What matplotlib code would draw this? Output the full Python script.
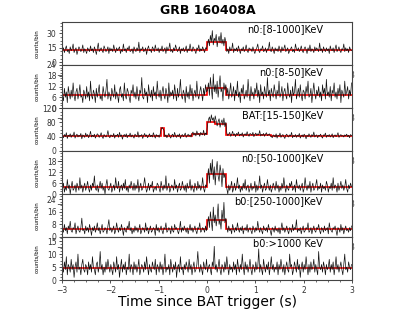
import numpy as np
import matplotlib
matplotlib.use('Agg')
import matplotlib.pyplot as plt
from matplotlib.ticker import AutoMinorLocator

# light curves, 0.02 s bins from -3 s to +3 s (300 bins each)
n0_8_1000 = [
    12, 15, 10, 14, 17, 11, 13, 9, 16, 12, 14, 19, 10, 13, 15, 8, 12, 16, 14, 11, 13, 18, 10, 14, 12,
    9, 15, 13, 11, 17, 12, 14, 10, 16, 13, 8, 14, 20, 11, 13, 15, 12, 10, 17, 14, 11, 13, 16, 9, 15,
    12, 14, 11, 18, 13, 10, 15, 12, 14, 16, 9, 13, 11, 19, 12, 14, 10, 15, 13, 17, 11, 12, 14, 9, 16,
    13, 11, 15, 12, 21, 10, 14, 13, 16, 11, 12, 15, 8, 14, 17, 12, 13, 10, 16, 14, 11, 18, 13, 12, 15,
    10, 14, 12, 17, 11, 13, 15, 9, 16, 12, 14, 20, 11, 13, 10, 15, 12, 18, 14, 11, 13, 16, 9, 14, 12,
    15, 11, 13, 17, 10, 14, 12, 19, 13, 11, 16, 14, 12, 9, 15, 13, 18, 11, 14, 12, 16, 13, 10, 15, 14,
    19, 24, 17, 28, 21, 33, 18, 25, 22, 29, 16, 23, 27, 20, 31, 19, 24, 17, 26, 21,
    11, 14, 9, 16, 12, 13, 20, 10, 14, 12, 15, 11, 17, 13, 9, 14, 12, 16, 11, 13, 18, 12, 10, 15, 13,
    14, 11, 16, 12, 9, 13, 15, 19, 12, 10, 14, 13, 17, 11, 12, 15, 10, 14, 13, 21, 12, 11, 16, 13, 9,
    15, 12, 14, 11, 17, 13, 10, 16, 12, 14, 18, 11, 13, 15, 9, 12, 14, 16, 11, 13, 10, 19, 14, 12, 15,
    11, 13, 17, 12, 10, 14, 16, 13, 9, 15, 12, 18, 11, 14, 13, 10, 16, 12, 15, 13, 11, 20, 12, 14, 10,
    16, 13, 11, 15, 12, 14, 9, 17, 13, 12, 15, 10, 14, 18, 11, 13, 16, 12, 10, 14, 13, 19, 11, 15, 12,
    14, 10, 16, 13, 12]

n0_8_50 = [
    7, 4, 11, 6, 9, 3, 12, 8, 5, 10, 6, 14, 7, 4, 9, 11, 5, 8, 13, 6, 7, 3, 10, 8, 5,
    12, 6, 9, 4, 15, 7, 5, 10, 8, 3, 11, 6, 9, 13, 5, 7, 4, 12, 8, 6, 10, 16, 5, 9, 7,
    4, 11, 8, 6, 13, 5, 9, 7, 3, 10, 12, 6, 8, 4, 14, 7, 5, 11, 9, 6, 3, 10, 8, 13, 6,
    9, 5, 12, 7, 4, 10, 8, 17, 6, 5, 11, 7, 9, 3, 13, 8, 6, 10, 4, 12, 7, 9, 5, 15, 8,
    6, 10, 4, 9, 12, 7, 5, 11, 8, 3, 14, 6, 9, 7, 10, 5, 13, 8, 4, 11, 6, 9, 16, 7, 5,
    10, 8, 3, 12, 6, 9, 5, 13, 7, 11, 4, 8, 10, 6, 15, 7, 5, 9, 12, 8, 4, 11, 7, 13, 9,
    10, 14, 7, 17, 11, 5, 19, 9, 13, 8, 15, 6, 12, 18, 9, 11, 4, 14, 10, 13,
    7, 11, 5, 9, 14, 6, 8, 12, 4, 10, 7, 15, 6, 9, 3, 11, 8, 13, 5, 7, 10, 6, 16, 8, 4,
    12, 7, 9, 5, 11, 8, 14, 6, 10, 3, 13, 7, 9, 5, 12, 8, 6, 17, 7, 10, 4, 11, 8, 6, 13,
    9, 5, 10, 7, 15, 6, 8, 12, 4, 9, 11, 7, 5, 14, 8, 6, 10, 3, 12, 7, 9, 16, 5, 8, 11,
    6, 13, 7, 4, 10, 9, 5, 12, 8, 15, 6, 7, 11, 3, 9, 14, 8, 5, 10, 7, 12, 6, 9, 4, 13,
    8, 11, 5, 16, 7, 9, 6, 12, 4, 10, 8, 14, 6, 9, 5, 11, 7, 13, 3, 10, 8, 6, 15, 7, 9,
    12, 5, 10, 7, 14]

bat_15_150 = [
    43, 37, 46, 40, 51, 35, 44, 41, 48, 38, 45, 42, 53, 36, 43, 47, 39, 44, 41, 49, 34, 45, 42, 38, 50,
    41, 46, 37, 43, 55, 39, 44, 40, 47, 36, 42, 48, 45, 38, 43, 51, 40, 35, 46, 42, 39, 44, 57, 41, 37,
    45, 43, 40, 49, 36, 44, 42, 47, 38, 52, 41, 45, 33, 43, 46, 40, 48, 37, 44, 42, 50, 39, 45, 41, 36,
    47, 43, 40, 54, 38, 44, 42, 46, 35, 43, 49, 41, 45, 37, 42, 48, 40, 44, 39, 51, 43, 36, 46, 41, 44,
    38, 47,
    60, 66, 62, 58,
    40, 45, 37, 43, 49, 41, 36, 44, 47, 39, 52, 42, 38, 45, 41, 48, 35, 43, 46, 40, 44, 50, 38, 42, 47,
    41, 45, 39,
    48, 53, 44, 50, 42, 56, 46, 49, 41, 52, 47, 45, 58, 43, 50, 46,
    72, 88, 95, 80, 101, 86, 93, 78, 98, 84, 70, 82, 90, 66, 79, 87, 72, 92, 68, 80,
    50, 43, 47, 52, 41, 46, 55, 44, 48, 40, 49, 45, 53, 42, 47, 44, 51, 39, 46, 48, 43, 54, 45, 41, 49,
    47, 44, 52, 40, 46, 50, 43, 48, 45, 57, 42, 46, 44, 49, 41, 47, 51, 43, 45, 48, 42,
    41, 37, 45, 43, 39, 48, 36, 44, 42, 50, 38, 43, 46, 40, 35, 44, 47, 41, 39, 45, 42, 52, 37, 43, 40,
    46, 38, 44, 41, 49, 36, 42, 45, 39, 47, 43, 34, 44, 40, 48, 42, 38, 46, 41, 53, 39, 43, 45, 37, 44,
    42, 47, 40, 36, 45, 43, 50, 38, 44, 41, 46, 39, 42, 48, 37, 43, 45, 40, 44, 51, 38, 42, 46, 41, 43,
    39, 45, 42, 47, 40, 44, 37, 46, 43]

n0_50_1000 = [
    3, 6, 1, 4, 2, 8, 3, 5, 0, 4, 7, 2, 3, 5, 1, 6, 4, 2, 9, 3, 5, 1, 4, 6, 2,
    4, 7, 3, 1, 5, 2, 6, 4, 10, 3, 2, 5, 1, 4, 7, 3, 6, 2, 4, 0, 5, 8, 3, 2, 4,
    6, 1, 3, 5, 2, 9, 4, 3, 7, 1, 4, 5, 2, 6, 3, 8, 2, 4, 1, 5, 3, 7, 4, 2, 6,
    2, 5, 3, 8, 1, 4, 6, 2, 3, 5, 9, 4, 1, 3, 6, 2, 5, 4, 7, 1, 3, 4, 2, 6, 5,
    3, 1, 7, 4, 2, 5, 3, 10, 2, 4, 6, 1, 3, 5, 4, 2, 8, 3, 5, 1, 4, 6, 2, 3, 7,
    4, 2, 5, 1, 6, 3, 4, 8, 2, 5, 3, 1, 6, 4, 2, 7, 3, 5, 2, 4, 9, 3, 1, 5, 4,
    9, 14, 6, 17, 11, 19, 8, 15, 5, 13, 18, 10, 7, 16, 12, 4, 14, 9, 11, 6,
    3, 0, 5, 2, 4, 7, 1, 3, 6, 2, 4, 9, 3, 5, 1, 4, 2, 6, 3, 8, 2, 4, 5, 1, 3,
    6, 2, 4, 3, 7, 1, 5, 2, 4, 10, 3, 5, 1, 4, 6, 2, 3, 8, 4, 2, 5, 1, 3, 6, 4,
    2, 7, 3, 5, 1, 4, 2, 6, 3, 9, 4, 1, 5, 3, 2, 6, 4, 7, 2, 3, 5, 1, 8, 4, 3,
    5, 2, 4, 6, 1, 3, 9, 4, 2, 5, 3, 7, 1, 4, 6, 2, 3, 5, 8, 2, 4, 3, 6, 1, 5,
    3, 4, 2, 7, 5, 1, 4, 3, 6, 2, 9, 3, 5, 4, 1, 6, 2, 4, 7, 3, 5, 2, 4, 8, 3,
    1, 5, 3, 6, 4]

b0_250_1000 = [
    5, 3, 8, 4, 6, 2, 7, 5, 10, 4, 3, 6, 5, 9, 2, 5, 7, 4, 3, 6, 12, 4, 5, 2, 7,
    4, 6, 3, 8, 5, 1, 6, 4, 7, 3, 5, 9, 4, 6, 2, 5, 8, 3, 4, 6, 5, 2, 7, 11, 4,
    6, 3, 5, 7, 2, 4, 9, 5, 3, 6, 4, 8, 5, 1, 6, 4, 3, 7, 5, 10, 4, 6, 2, 5, 3,
    7, 4, 6, 3, 5, 8, 2, 4, 6, 5, 3, 9, 4, 6, 2, 5, 7, 3, 4, 6, 5, 1, 8, 4, 6,
    3, 5, 7, 4, 2, 6, 5, 9, 3, 4, 6, 5, 2, 7, 4, 3, 8, 5, 6, 4, 2, 5, 10, 3, 6,
    4, 7, 5, 3, 6, 2, 5, 8, 4, 6, 3, 5, 7, 4, 2, 6, 5, 9, 3, 4, 6, 5, 3, 7, 4,
    8, 13, 6, 16, 10, 4, 19, 9, 14, 7, 12, 21, 8, 11, 5, 17, 10, 22, 9, 12,
    6, 3, 7, 4, 5, 2, 8, 5, 3, 6, 4, 9, 5, 3, 6, 4, 7, 2, 5, 6, 4, 8, 3, 5, 6,
    4, 2, 7, 5, 3, 6, 4, 10, 5, 3, 6, 4, 2, 7, 5, 4, 6, 3, 8, 5, 4, 1, 6, 5, 3,
    7, 4, 5, 3, 6, 2, 5, 9, 4, 6, 3, 5, 7, 4, 2, 6, 5, 3, 8, 4, 6, 5, 11, 3, 5,
    4, 6, 2, 5, 7, 3, 4, 6, 5, 9, 3, 4, 6, 2, 5, 7, 4, 3, 6, 5, 8, 4, 2, 6, 5,
    3, 7, 4, 5, 6, 2, 9, 5, 4, 3, 6, 5, 7, 4, 1, 6, 5, 3, 8, 4, 6, 2, 5, 7, 4,
    5, 3, 6, 4, 7]

b0_1000 = [
    5, 3, 7, 4, 9, 2, 6, 5, 3, 8, 4, 6, 1, 5, 7, 3, 10, 4, 5, 2, 6, 8, 4, 3, 6,
    5, 2, 7, 4, 6, 3, 9, 5, 4, 2, 6, 7, 3, 5, 11, 4, 6, 2, 5, 3, 7, 4, 8, 5, 3,
    6, 4, 2, 7, 5, 3, 9, 4, 6, 1, 5, 8, 3, 6, 4, 7, 2, 5, 4, 10, 3, 6, 5, 2, 7,
    4, 6, 3, 5, 8, 2, 4, 6, 5, 3, 7, 4, 9, 5, 2, 6, 4, 3, 7, 5, 4, 8, 2, 6, 5,
    3, 7, 4, 6, 2, 5, 10, 3, 5, 4, 6, 2, 8, 5, 3, 6, 4, 7, 1, 5, 6, 3, 9, 4, 5,
    2, 6, 4, 7, 5, 3, 8, 4, 6, 2, 5, 7, 3, 4, 6, 11, 5, 3, 6, 4, 2, 7, 5, 4, 8,
    3, 5, 6, 4, 2, 7, 5, 13, 4, 6, 3, 5, 8, 4, 2, 6, 5, 3, 7, 4, 9, 5, 2, 6, 4,
    5, 3, 7, 4, 6, 2, 8, 5, 3, 6, 4, 10, 5, 2, 7, 4, 6, 3, 5, 8, 4, 2, 6, 5, 3,
    7, 4, 5, 12, 3, 6, 4, 2, 8, 5, 3, 6, 4, 7, 2, 5, 9, 4, 6, 3, 5, 4, 7, 2, 6,
    4, 8, 5, 3, 6, 2, 5, 7, 4, 3, 10, 5, 6, 2, 4, 7, 5, 3, 8, 4, 6, 1, 5, 7, 3,
    6, 4, 9, 5, 2, 6, 3, 7, 4, 5, 8, 3, 6, 4, 2, 11, 5, 4, 6, 3, 7, 5, 2, 6, 4,
    5, 8, 3, 6, 4, 7, 2, 5, 9, 4, 6, 3, 5, 7, 4, 2, 6, 10, 4, 5, 3, 7, 5, 4, 6]

# Bayesian-block levels (edges, values)
bb_n0_8_1000 = ([-3, 0.0, 0.4, 3], [12.5, 21.5, 12.5])
bb_n0_8_50 = ([-3, 0.0, 0.4, 3], [7.5, 11.0, 7.5])
bb_bat = ([-3, -0.96, -0.88, -0.32, 0.0, 0.16, 0.4, 1.32, 3],
          [42, 63, 42, 47, 82, 74, 46, 42])
bb_n0_50_1000 = ([-3, 0.0, 0.4, 3], [3.8, 10.8, 3.8])
bb_b0_250_1000 = ([-3, 0.0, 0.4, 3], [5.0, 10.6, 5.0])
bb_b0_1000 = ([-3, 3], [4.7])

labels = ['n0:[8-1000]KeV', 'n0:[8-50]KeV', 'BAT:[15-150]KeV',
          'n0:[50-1000]KeV', 'b0:[250-1000]KeV', 'b0:>1000 KeV']
curves = [n0_8_1000, n0_8_50, bat_15_150, n0_50_1000, b0_250_1000, b0_1000]
blocks = [bb_n0_8_1000, bb_n0_8_50, bb_bat, bb_n0_50_1000, bb_b0_250_1000, bb_b0_1000]
ylims = [(-3, 42), (0, 24), (0, 120), (0, 23.7), (0, 27.3), (0, 16.6)]
yticks = [[0, 15, 30], [0, 6, 12, 18, 24], [0, 40, 80, 120],
          [0, 6, 12, 18], [0, 8, 16, 24], [0, 5, 10, 15]]

fig = plt.figure(figsize=(4.15, 3.10), dpi=100)
left, width = 62 / 415, 290 / 415
top, bottom = 1 - 22 / 310, 1 - 280 / 310
h = (top - bottom) / 6

for i in range(6):
    ax = fig.add_axes([left, top - (i + 1) * h, width, h], facecolor='white')
    y = curves[i]
    edges_t = np.linspace(-3, 3, len(y) + 1)
    t = 0.5 * (edges_t[:-1] + edges_t[1:])
    ax.plot(t, y, color='#111111', lw=0.5)
    edges, vals = blocks[i]
    ax.stairs(vals, edges, color='red', lw=1.2, baseline=None)
    ax.set_xlim(-3, 3)
    ax.set_ylim(*ylims[i])
    ax.set_yticks(yticks[i])
    ax.set_xticks([-3, -2, -1, 0, 1, 2, 3])
    ax.xaxis.set_minor_locator(AutoMinorLocator(4))
    ax.yaxis.set_minor_locator(AutoMinorLocator(4))
    ax.tick_params(which='major', direction='out', length=2.5, width=0.6,
                   labelsize=5.5, pad=1.5, colors='#333333')
    ax.tick_params(which='minor', direction='out', length=1.3, width=0.5,
                   colors='#333333')
    for s in ax.spines.values():
        s.set_color('#444444')
        s.set_linewidth(0.8)
    ax.set_ylabel('counts/bin', fontsize=4)
    ax.yaxis.set_label_coords(-0.08, 0.5)
    ax.text(0.9, 0.84, labels[i], transform=ax.transAxes, ha='right', va='center',
            fontsize=7)

ax.set_xlabel('Time since BAT trigger (s)', fontsize=10, labelpad=0.5)
fig.text(0.5, 0.966, 'GRB 160408A', ha='center', va='center', fontsize=9,
         fontweight='bold')

fig.savefig('out.png', dpi=100)
